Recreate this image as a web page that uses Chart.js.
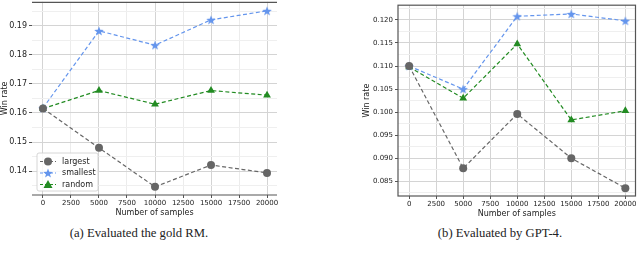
<!DOCTYPE html>
<html>
<head>
<meta charset="utf-8">
<script src="https://cdn.jsdelivr.net/npm/chart.js@4.4.1/dist/chart.umd.min.js"></script>
<style>
  body { margin: 0; background: #fff; width: 640px; height: 258px; overflow: hidden; position: relative; }
  .box { position: absolute; }
  .cap { position: absolute; font-family: "Liberation Serif", serif; font-size: 12.7px; color: #222; white-space: nowrap; transform: translateX(-50%); }
</style>
</head>
<body>
<div class="box" style="left:0;top:-5px;width:285px;height:225px"><canvas id="gold"></canvas></div>
<div class="box" style="left:362px;top:-1px;width:278px;height:222px"><canvas id="gpt"></canvas></div>
<div class="cap" style="left:139px;top:226px">(a) Evaluated the gold RM.</div>
<div class="cap" style="left:500px;top:226px">(b) Evaluated by GPT-4.</div>
<script>
// number of samples
const samples = [0, 5000, 10000, 15000, 20000];
const xTicks = [0, 2500, 5000, 7500, 10000, 12500, 15000, 17500, 20000];

// (a) gold RM win rate
const goldLargest  = [0.1615, 0.1480, 0.1346, 0.1421, 0.1394];
const goldSmallest = [0.1617, 0.1882, 0.1833, 0.1920, 0.1951];
const goldRandom   = [0.1615, 0.1677, 0.1630, 0.1677, 0.1661];

// (b) GPT-4 win rate
const gptLargest  = [0.1100, 0.0878, 0.0996, 0.0900, 0.0835];
const gptSmallest = [0.1100, 0.1050, 0.1208, 0.1213, 0.1198];
const gptRandom   = [0.1098, 0.1030, 0.1148, 0.0983, 0.1003];

const names = ['largest', 'smallest', 'random'];
const colors = ['#666666', '#6495ed', '#228b22'];

Chart.defaults.font.family = '"DejaVu Sans", sans-serif';
Chart.defaults.color = '#222';

// filled five point star like matplotlib '*'
function makeStar(color, size) {
  let c = document.createElement('canvas');
  c.width = size; c.height = size;
  let g = c.getContext('2d');
  let cx = size / 2, cy = size / 2 + 0.5, R = size / 2, r = R * 0.42;
  g.beginPath();
  for (let i = 0; i < 10; i++) {
    let a = -Math.PI / 2 + i * Math.PI / 5;
    let rr = i % 2 ? r : R;
    g.lineTo(cx + rr * Math.cos(a), cy + rr * Math.sin(a));
  }
  g.closePath();
  g.fillStyle = color;
  g.fill();
  return c;
}
const star = makeStar(colors[1], 10);
const styles = ['circle', star, 'triangle'];

function pts(ys) {
  return samples.map((x, i) => ({x: x, y: ys[i]}));
}

function sets(series) {
  return series.map((s, i) => ({
    label: names[i],
    data: pts(s),
    borderColor: colors[i],
    backgroundColor: colors[i],
    borderWidth: 1.2,
    borderDash: [4, 2.5],
    pointStyle: styles[i],
    pointRadius: i == 2 ? 4.5 : 4,
    pointBorderWidth: 0,
    showLine: true
  }));
}

const frame = {
  id: 'frame',
  afterDraw(chart, args, opts) {
    let ctx = chart.ctx, a = chart.chartArea;
    ctx.save();
    ctx.strokeStyle = '#555';
    ctx.lineWidth = 1.2;
    if (opts.box) {
      ctx.strokeRect(a.left, a.top, a.right - a.left, a.bottom - a.top);
    } else {
      ctx.beginPath();
      ctx.moveTo(a.left, a.top + 0.5); ctx.lineTo(a.right, a.top + 0.5);
      ctx.moveTo(a.left, a.bottom); ctx.lineTo(a.right, a.bottom);
      ctx.stroke();
    }
    if (opts.legend) {
      // legend sits at the lower left of the plot area
      let x = a.left + 5, y = a.bottom - 42, w = 61, h = 38;
      ctx.fillStyle = 'rgba(255,255,255,0.85)';
      ctx.strokeStyle = '#ccc';
      ctx.lineWidth = 0.8;
      ctx.beginPath();
      ctx.roundRect(x, y, w, h, 2);
      ctx.fill(); ctx.stroke();
      ctx.font = '8px "DejaVu Sans"';
      ctx.textBaseline = 'middle';
      names.forEach((n, i) => {
        let ly = y + 8.5 + i * 11.5;
        ctx.strokeStyle = colors[i];
        ctx.lineWidth = 1.2;
        ctx.setLineDash([3, 2]);
        ctx.beginPath(); ctx.moveTo(x + 3, ly); ctx.lineTo(x + 19, ly); ctx.stroke();
        ctx.setLineDash([]);
        ctx.fillStyle = colors[i];
        let mx = x + 11;
        if (i == 0) { ctx.beginPath(); ctx.arc(mx, ly, 4, 0, Math.PI * 2); ctx.fill(); }
        else if (i == 1) { ctx.drawImage(star, mx - 5, ly - 5); }
        else { ctx.beginPath(); ctx.moveTo(mx, ly - 4.5); ctx.lineTo(mx + 4.5, ly + 3.5); ctx.lineTo(mx - 4.5, ly + 3.5); ctx.closePath(); ctx.fill(); }
        ctx.fillStyle = '#222';
        ctx.fillText(n, x + 25, ly);
      });
    }
    ctx.restore();
  }
};

function make(id, series, yr, yw, xh, box, legend, pad) {
  return new Chart(document.getElementById(id), {
    type: 'scatter',
    data: {datasets: sets(series)},
    options: {
      responsive: true,
      maintainAspectRatio: false,
      animation: false,
      layout: {padding: pad},
      plugins: {legend: {display: false}, tooltip: {enabled: false}, frame: {box: box, legend: legend}},
      scales: {
        x: {
          type: 'linear', min: yr.xmin, max: yr.xmax,
          afterBuildTicks: s => { s.ticks = xTicks.map(v => ({value: v})); },
          afterFit: s => { s.height = xh; },
          border: {display: false},
          grid: {color: c => c.tick && c.tick.value % 5000 == 0 ? '#d4d4d4' : (box ? '#d4d4d4' : '#ececec'), tickLength: 3, tickColor: '#555'},
          ticks: {maxRotation: 0, autoSkip: false, padding: 1, font: {size: 7}, callback: v => String(v)},
          title: {display: true, text: 'Number of samples', font: {size: 8}, padding: {top: 0, bottom: 2}}
        },
        y: {
          min: yr.min, max: yr.max,
          afterFit: s => { s.width = yw; },
          border: {display: false},
          grid: {color: c => yr.major(c.tick ? c.tick.value : 0) ? '#d4d4d4' : '#efefef', tickLength: 3, tickColor: c => yr.major(c.tick ? c.tick.value : 0) ? '#555' : 'rgba(0,0,0,0)'},
          ticks: {stepSize: yr.step, includeBounds: false, autoSkip: false, padding: 2, font: {size: yr.fs},
                  callback: v => yr.major(v) ? v.toFixed(yr.dp) : ''},
          title: {display: true, text: 'Win rate', font: {size: 8}, padding: {top: 0, bottom: 2}}
        }
      }
    },
    plugins: [frame]
  });
}

make('gold', [goldLargest, goldSmallest, goldRandom],
  {xmin: -980, xmax: 20890, min: 0.1318, max: 0.1982, step: 0.005, dp: 2, fs: 8,
   major: v => Math.round(v * 1000) % 10 == 0},
  32, 25, false, true, {left: 0, right: 8, top: 0, bottom: 0});

make('gpt', [gptLargest, gptSmallest, gptRandom],
  {xmin: -1030, xmax: 20940, min: 0.0818, max: 0.1232, step: 0.0025, dp: 3, fs: 7,
   major: v => Math.round(v * 10000) % 50 == 0},
  36, 25, true, false, {left: 0, right: 1, top: 0, bottom: 0});
</script>
</body>
</html>
